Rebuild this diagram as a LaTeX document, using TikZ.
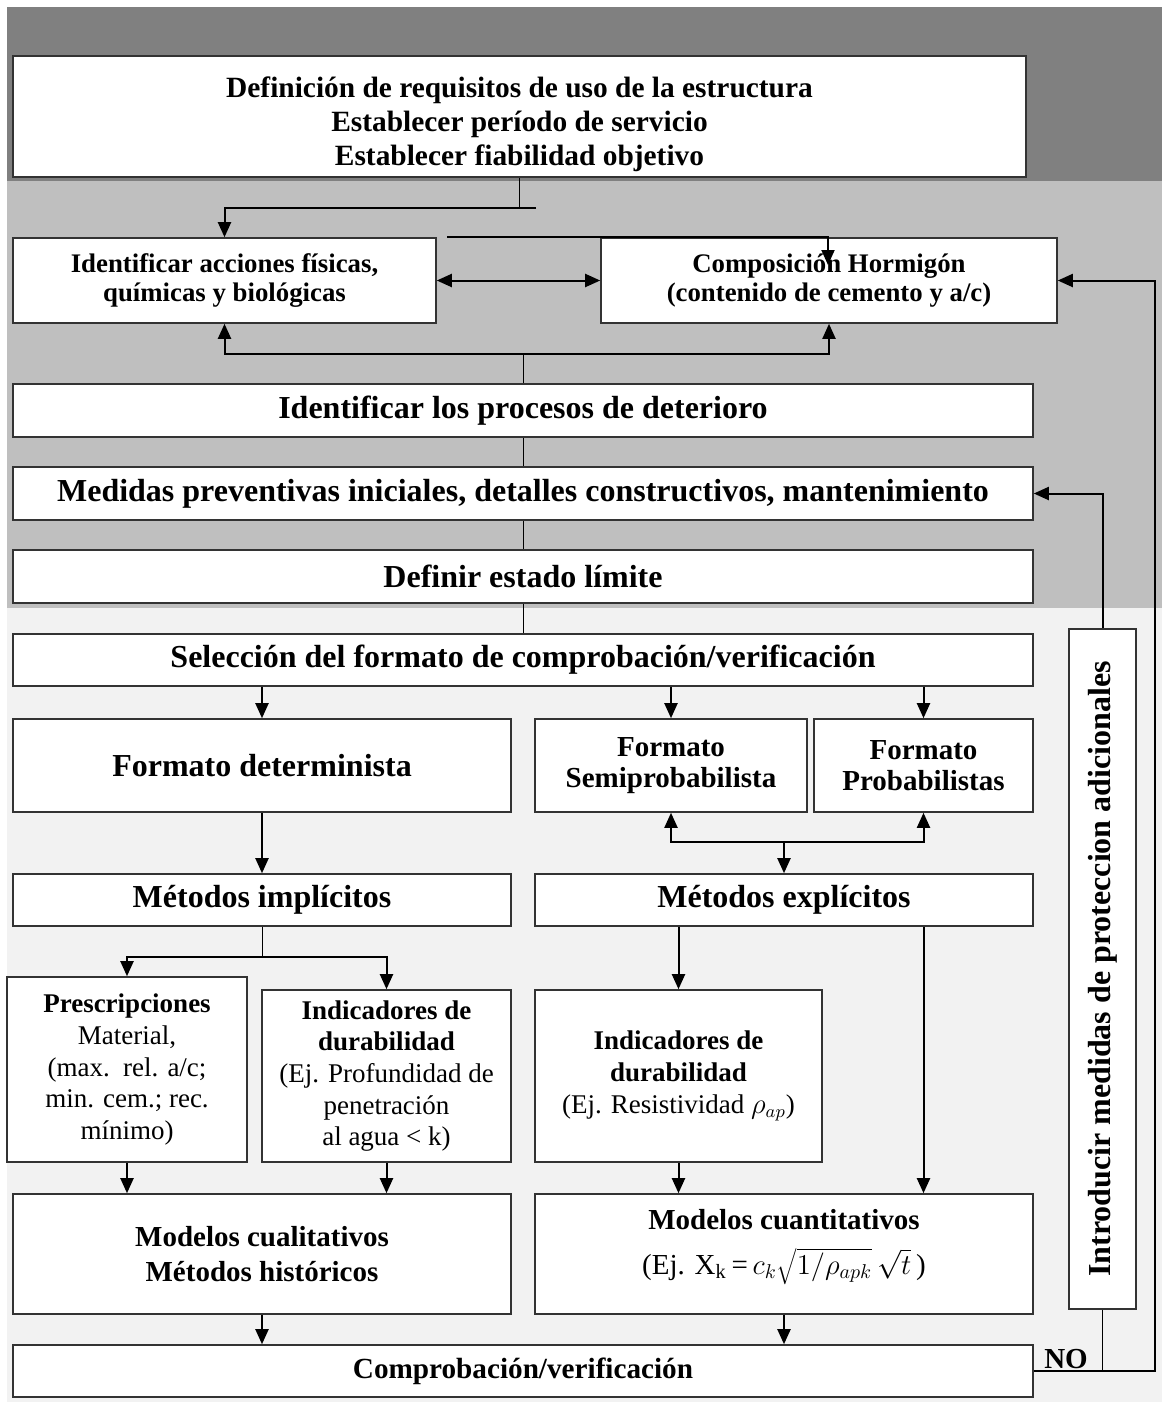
\documentclass[tikz,border=0pt]{standalone}
\usepackage{fontspec}
\setmainfont{Liberation Serif}
\usetikzlibrary{arrows.meta}

\definecolor{bandtop}{HTML}{808080}
\definecolor{bandmid}{HTML}{BFBFBF}
\definecolor{bandlow}{HTML}{F2F2F2}

\tikzset{
  box/.style={draw=black!80, line width=0.8pt, fill=white, align=center, inner sep=1pt,
    font=\bfseries\fontsize{16}{19}\selectfont},
  sz/.style 2 args={minimum width=#1*0.5pt, minimum height=#2*0.5pt},
  mid/.style={font=\bfseries\fontsize{14.5}{15.5}\selectfont},
  small/.style={font=\bfseries\fontsize{13.5}{15.8}\selectfont},
  arr/.style={line width=1pt, -{Triangle[length=7.5pt,width=6.5pt]}},
  arrboth/.style={line width=1pt, {Triangle[length=7.5pt,width=6.5pt]}-{Triangle[length=7.5pt,width=6.5pt]}},
  link/.style={line width=1pt},
  thinlink/.style={line width=0.5pt}
}

\begin{document}
\begin{tikzpicture}[x=0.5pt,y=-0.5pt]
\useasboundingbox (0,0) rectangle (1162,1403);

% bandas de fondo
\fill[bandtop] (7,7) rectangle (1162,181);
\fill[bandmid] (7,181) rectangle (1162,608);
\fill[bandlow] (7,608) rectangle (1162,1402);

% cajas
\node[box, sz={1013}{121}, font=\bfseries\fontsize{14.7}{17}\selectfont] (req) at (519.5,116.5)
  {\rule{0pt}{18pt}Definición de requisitos de uso de la estructura\\Establecer período de servicio\\Establecer fiabilidad objetivo};
\node[box, sz={423}{85}, font=\bfseries\fontsize{13.4}{14.5}\selectfont] (acc) at (224.5,280.5)
  {Identificar acciones físicas,\\químicas y biológicas};
\node[box, sz={456}{85}, font=\bfseries\fontsize{13.4}{14.5}\selectfont] (horm) at (829,280.5)
  {Composición Hormigón\\(contenido de cemento y a/c)};
\node[box, sz={1020}{53}] (proc) at (523,410.5) {Identificar los procesos de deterioro};
\node[box, sz={1020}{53}] (prev) at (523,493.5) {Medidas preventivas iniciales, detalles constructivos, mantenimiento};
\node[box, sz={1020}{53}] (lim) at (523,576.5) {Definir estado límite};
\node[box, sz={1020}{52}] (sel) at (523,660) {Selección del formato de comprobación/verificación};

\node[box, sz={498}{93}] (fdet) at (262,765.5) {Formato determinista};
\node[box, sz={272}{93}, mid] (fsemi) at (671,765.5) {Formato\\Semiprobabilista};
\node[box, sz={219}{93}, mid] (fprob) at (923.5,765.5) {Formato\\Probabilistas};

\node[box, sz={498}{52}] (mimp) at (262,900) {Métodos implícitos};
\node[box, sz={498}{52}] (mexp) at (784,900) {Métodos explícitos};

\node[box, sz={240}{185}, small] (presc) at (127,1069.5)
  {Prescripciones\\\textmd{Material,}\\\textmd{(max.\ \ rel. a/c;}\\\textmd{min. cem.; rec.}\\\textmd{mínimo)}};
\node[box, sz={249}{172}, small] (indi) at (386.5,1076)
  {Indicadores de\\durabilidad\\\textmd{(Ej. Profundidad de}\\\textmd{penetración}\\\textmd{al agua < k)}};
\node[box, sz={287}{172}, small] (inde) at (678.5,1076)
  {Indicadores de\\durabilidad\\\textmd{(Ej. Resistividad $\rho_{ap}$)}};

\node[box, sz={498}{120}, font=\bfseries\fontsize{14.5}{17.5}\selectfont] (mcual) at (262,1254)
  {Modelos cualitativos\\Métodos históricos};
\node[box, sz={498}{120}, font=\bfseries\fontsize{14.5}{17.5}\selectfont] (mcuan) at (784,1254)
  {Modelos cuantitativos\\[5pt]\textmd{(Ej. X\textsubscript{k}\,=\,$c_k\sqrt{1/\rho_{apk}}\,\sqrt{t}$\,)}\rule[-12pt]{0pt}{1pt}};

\node[box, sz={1020}{52}, font=\bfseries\fontsize{14.6}{16}\selectfont] (comp) at (523,1371) {Comprobación/verificación};

\node[box, sz={680}{67}, rotate=90] (intro) at (1102.5,969) {Introducir medidas de proteccion adicionales};
\node[font=\bfseries\fontsize{14.5}{16}\selectfont, inner sep=0pt] (no) at (1066,1359) {NO};

% conexiones parte superior
\coordinate (t1) at (519.5,208);
\coordinate (t2) at (536,208);
\draw[thinlink] (req.south) -- (t1);
\draw[arr] (t2) -| (acc.north);
\coordinate (h1) at (447,237);
\coordinate (h2) at (828,265);
\draw[arr] (h1) -| (h2);
\draw[arrboth] (acc.east) -- (horm.west);
\coordinate (b1) at (523,354);
\draw[arr] (b1) -| (acc.south);
\draw[arr] (b1) -| (horm.south);
\draw[thinlink] (b1) -- (proc.north);
\draw[thinlink] (proc.south) -- (prev.north);
\draw[thinlink] (prev.south) -- (lim.north);
\draw[thinlink] (lim.south) -- (sel.north);

% formatos
\draw[arr] (sel.south -| fdet.north) -- (fdet.north);
\draw[arr] (sel.south -| fsemi.north) -- (fsemi.north);
\draw[arr] (sel.south -| fprob.north) -- (fprob.north);
\draw[arr] (fdet.south) -- (mimp.north);
\coordinate (b2) at (784,842);
\draw[arr] (b2) -| (fsemi.south);
\draw[arr] (b2) -| (fprob.south);
\draw[arr] (b2) -- (mexp.north);

% metodos
\coordinate (b3) at (262,957);
\draw[thinlink] (mimp.south) -- (b3);
\draw[arr] (b3) -| (presc.north);
\draw[arr] (b3) -| (indi.north);
\draw[arr] (mexp.south -| inde.north) -- (inde.north);
\draw[arr] (mexp.south -| fprob.south) -- (mcuan.north -| fprob.south);
\draw[arr] (presc.south) -- (presc.south |- mcual.north);
\draw[arr] (indi.south) -- (indi.south |- mcual.north);
\draw[arr] (inde.south) -- (inde.south |- mcuan.north);
\draw[arr] (mcual.south) -- (comp.north -| mcual.south);
\draw[arr] (mcuan.south) -- (comp.north -| mcuan.south);

% retorno
\coordinate (r1) at (1155,1371);
\draw[arr] (comp.east) -- (r1) |- (horm.east);
\draw[thinlink] (intro.west) -- (intro.west |- comp.east);
\draw[arr] (intro.east) |- (prev.east);
\end{tikzpicture}
\end{document}
